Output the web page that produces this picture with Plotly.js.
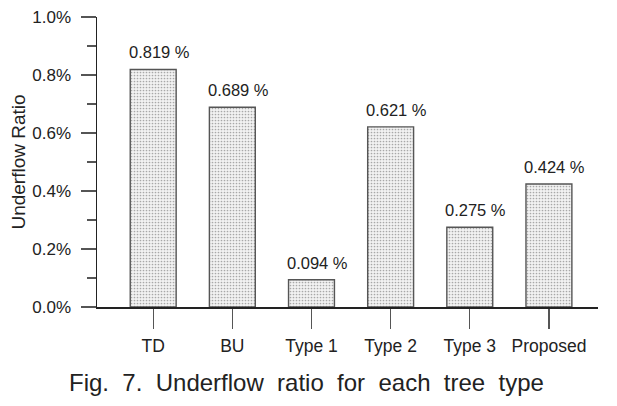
<!DOCTYPE html>
<html>
<head>
<meta charset="utf-8">
<script src="https://cdn.plot.ly/plotly-3.0.1.min.js"></script>
<style>html,body{margin:0;padding:0;background:#fff;}#chart{width:617px;height:406px;}</style>
</head>
<body>
<div id="chart"></div>
<script>
const categories = ["TD", "BU", "Type 1", "Type 2", "Type 3", "Proposed"];
const values = [0.819, 0.689, 0.094, 0.621, 0.275, 0.424];
const labels = ["0.819 %", "0.689 %", "0.094 %", "0.621 %", "0.275 %", "0.424 %"];
const yTickVals = [0, 0.2, 0.4, 0.6, 0.8, 1.0];
const yTickText = ["0.0%", "0.2%", "0.4%", "0.6%", "0.8%", "1.0%"];

const font = "Liberation Sans, Arial, sans-serif";

const trace = {
  type: "bar",
  x: categories.map((c, i) => i),
  y: values,
  width: 0.58,
  marker: {
    color: "#eeeeee",
    line: {color: "#555555", width: 1.4},
    pattern: {shape: ".", fgcolor: "#a8a8a8", bgcolor: "#f2f2f2", size: 3, solidity: 0.25}
  },
  hoverinfo: "none"
};

const annotations = values.map((v, i) => ({
  x: i, y: v, xref: "x", yref: "y",
  text: labels[i], showarrow: false,
  yanchor: "bottom", yshift: 6, xshift: 6,
  font: {family: font, size: 16.5, color: "#222"}
}));
annotations.push({
  xref: "paper", yref: "paper", x: 0.418, y: -0.262,
  xanchor: "center", yanchor: "middle",
  text: "Fig.&nbsp; 7.&nbsp; Underflow&nbsp; ratio&nbsp; for&nbsp; each&nbsp; tree&nbsp; type",
  showarrow: false,
  font: {family: font, size: 24, color: "#222"}
});

const layout = {
  width: 617, height: 406,
  margin: {l: 97, r: 19, t: 17, b: 99},
  paper_bgcolor: "#fff", plot_bgcolor: "#fff",
  showlegend: false,
  xaxis: {
    range: [-0.71, 5.62],
    tickvals: categories.map((c, i) => i),
    ticktext: categories,
    ticks: "outside", ticklen: 20, tickwidth: 1.2, tickcolor: "#555",
    ticklabelstandoff: 2,
    showline: true, linecolor: "#222", linewidth: 1.5,
    showgrid: false, zeroline: false,
    tickfont: {family: font, size: 17.5, color: "#222"},
    fixedrange: true
  },
  yaxis: {
    range: [0, 1.0],
    tickvals: yTickVals, ticktext: yTickText,
    ticks: "outside", ticklen: 15, tickwidth: 1.2, tickcolor: "#555",
    ticklabelstandoff: 6,
    minor: {dtick: 0.1, ticks: "outside", ticklen: 9, tickwidth: 1.2, tickcolor: "#555", showgrid: false},
    showline: true, linecolor: "#222", linewidth: 1.5,
    showgrid: false, zeroline: false,
    tickfont: {family: font, size: 17, color: "#222"},
    title: {text: "Underflow Ratio", font: {family: font, size: 19, color: "#222"}, standoff: 1},
    fixedrange: true
  },
  annotations: annotations
};

Plotly.newPlot("chart", [trace], layout, {displayModeBar: false, staticPlot: true});
</script>
</body>
</html>
